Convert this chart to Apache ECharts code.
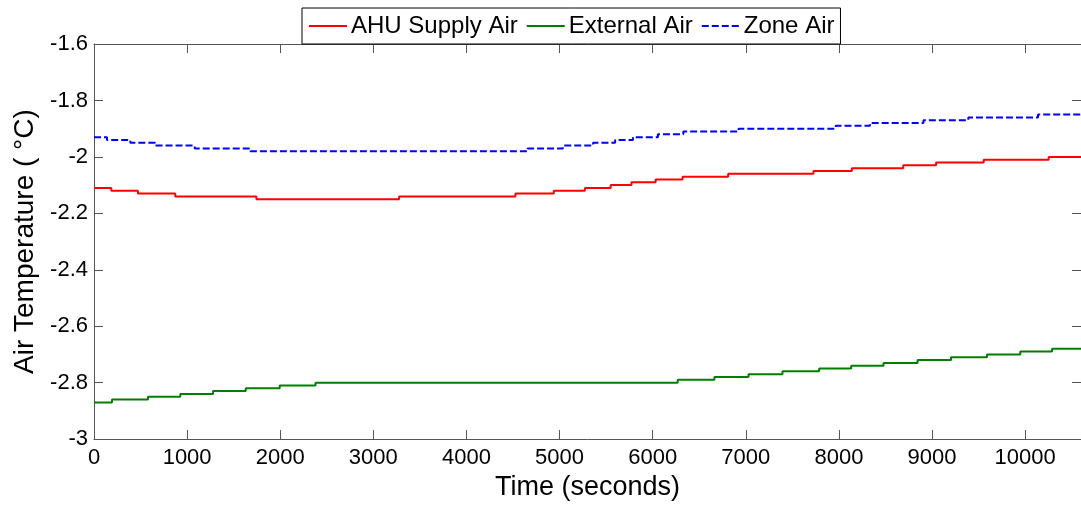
<!DOCTYPE html>
<html>
<head>
<meta charset="utf-8">
<script src="https://cdn.jsdelivr.net/npm/echarts@6/dist/echarts.min.js"></script>
<style>
html,body{margin:0;padding:0;background:#fff;}
#chart{width:1081px;height:506px;}
</style>
</head>
<body>
<div id="chart"></div>
<script>
// ---- Data (time in seconds, temperature in °C) ----
const seriesNames = ['AHU Supply Air', 'External Air', 'Zone Air'];

const ahuTimes  = [0, 186, 472, 873, 1744, 3277, 4526, 4938, 5272, 5549, 5772, 6032, 6321, 6811, 7727, 8139, 8691, 9044, 9555, 10253, 10600];
const ahuValues = [-2.11, -2.12, -2.13, -2.14, -2.15, -2.14, -2.13, -2.12, -2.11, -2.10, -2.09, -2.08, -2.07, -2.06, -2.05, -2.04, -2.03, -2.02, -2.01, -2.00, -2.00];

const extTimes  = [0, 193, 580, 927, 1278, 1630, 1995, 2379, 6269, 6663, 7029, 7394, 7788, 8132, 8479, 8845, 9204, 9591, 9948, 10289, 10600];
const extValues = [-2.87, -2.86, -2.85, -2.84, -2.83, -2.82, -2.81, -2.80, -2.79, -2.78, -2.77, -2.76, -2.75, -2.74, -2.73, -2.72, -2.71, -2.70, -2.69, -2.68, -2.68];

const zoneTimes  = [0, 140, 390, 655, 1082, 1680, 4656, 5035, 5360, 5597, 5788, 6056, 6329, 6922, 7966, 8334, 8908, 9390, 10138, 10600];
const zoneValues = [-1.93, -1.94, -1.95, -1.96, -1.97, -1.98, -1.97, -1.96, -1.95, -1.94, -1.93, -1.92, -1.91, -1.90, -1.89, -1.88, -1.87, -1.86, -1.85, -1.85];

const xMin = 0, xMax = 10600, xInterval = 1000;
const yMin = -3, yMax = -1.6, yInterval = 0.2;
const xTitle = 'Time (seconds)';
const yTitle = 'Air Temperature ( °C)';

// ---- Chart ----
const pair = (ts, vs) => ts.map((t, i) => [t, vs[i]]);
const FONT = 'Liberation Sans, Arial, sans-serif';
const AXIS_COLOR = '#555';

const chart = echarts.init(document.getElementById('chart'), null, {renderer: 'canvas'});

const boxAxis = (extra) => Object.assign({
  axisLine: {show: true, onZero: false, lineStyle: {color: AXIS_COLOR, width: 1}},
  axisTick: {show: true, inside: true, length: 9, lineStyle: {color: AXIS_COLOR}},
  axisLabel: {show: false},
  splitLine: {show: false}
}, extra);

chart.setOption({
  animation: false,
  backgroundColor: '#fff',
  textStyle: {fontFamily: FONT},
  grid: {left: 94, right: 0, top: 44, bottom: 59, containLabel: false},
  legend: {
    data: seriesNames,
    left: 302, top: 8,
    padding: [4, 6, 4, 6],
    itemGap: 8,
    itemWidth: 38,
    itemHeight: 14,
    backgroundColor: '#fff',
    borderColor: '#000',
    borderWidth: 1,
    borderRadius: 0,
    itemStyle: {opacity: 0},
    textStyle: {fontSize: 24, color: '#000', fontFamily: FONT, lineHeight: 28, padding: [0, 0, 0, -1]}
  },
  xAxis: [
    boxAxis({
      type: 'value', min: xMin, max: xMax, interval: xInterval, position: 'bottom',
      name: xTitle, nameLocation: 'middle', nameGap: 30,
      nameTextStyle: {fontSize: 27, color: '#000', fontFamily: FONT},
      axisLabel: {show: true, fontSize: 22, color: '#000', margin: 8, fontFamily: FONT,
                  showMaxLabel: false, formatter: v => String(v)}
    }),
    boxAxis({type: 'value', min: xMin, max: xMax, interval: xInterval, position: 'top'})
  ],
  yAxis: [
    boxAxis({
      type: 'value', min: yMin, max: yMax, interval: yInterval, position: 'left',
      name: yTitle, nameLocation: 'middle', nameGap: 53, nameRotate: 90,
      nameTextStyle: {fontSize: 28, color: '#000', fontFamily: FONT},
      axisLabel: {show: true, fontSize: 22, color: '#000', margin: 6, fontFamily: FONT,
                  formatter: v => String(Math.round(v * 10) / 10)}
    }),
    boxAxis({type: 'value', min: yMin, max: yMax, interval: yInterval, position: 'right'})
  ],
  series: [
    {name: seriesNames[0], type: 'line', step: 'end', symbol: 'none', xAxisIndex: 0, yAxisIndex: 0,
     data: pair(ahuTimes, ahuValues), color: '#ff0000', lineStyle: {color: '#ff0000', width: 2}},
    {name: seriesNames[1], type: 'line', step: 'end', symbol: 'none', xAxisIndex: 0, yAxisIndex: 0,
     data: pair(extTimes, extValues), color: '#008000', lineStyle: {color: '#008000', width: 2}},
    {name: seriesNames[2], type: 'line', step: 'end', symbol: 'none', xAxisIndex: 0, yAxisIndex: 0,
     data: pair(zoneTimes, zoneValues), color: '#0000ff', lineStyle: {color: '#0000ff', width: 2, type: [7, 3]}}
  ]
});
</script>
</body>
</html>
